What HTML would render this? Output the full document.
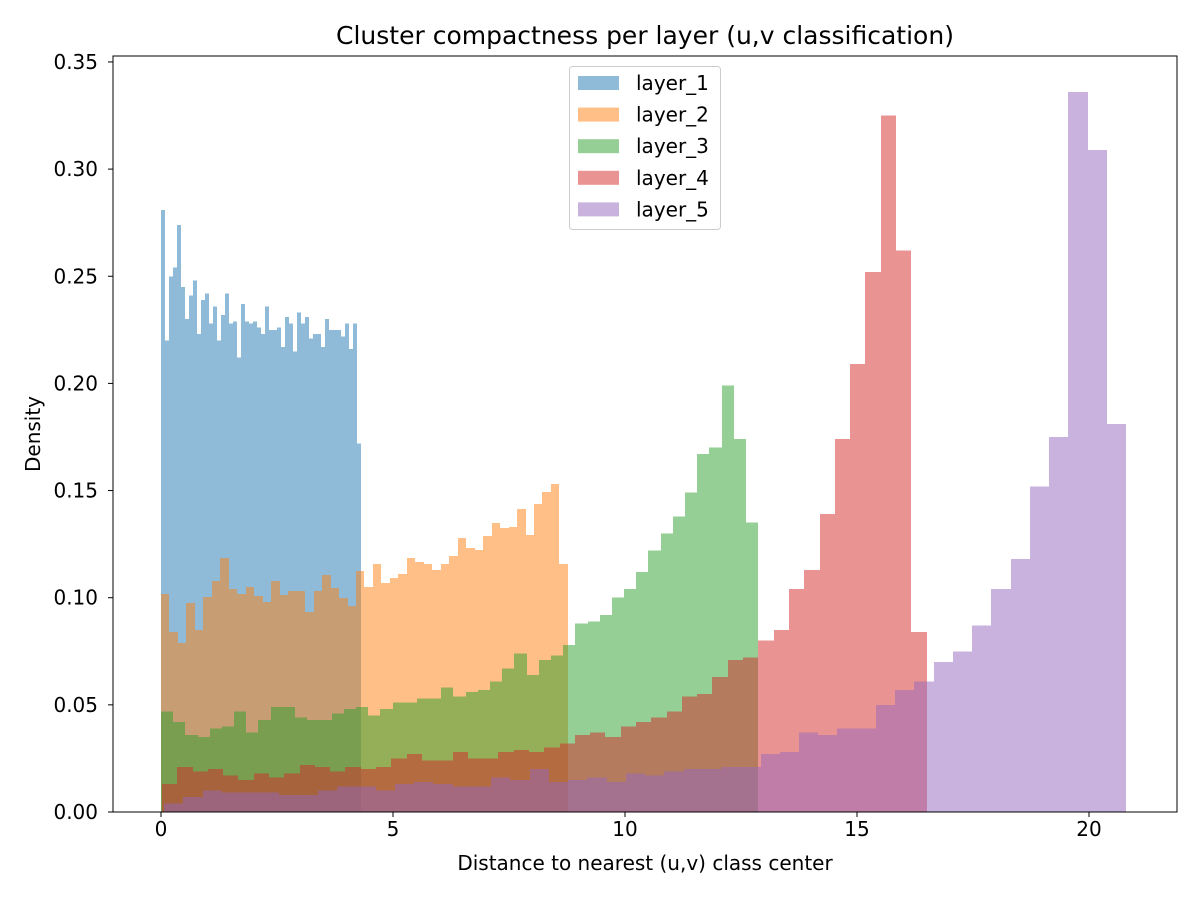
<!DOCTYPE html>
<html><head><meta charset="utf-8"><style>
html,body{margin:0;padding:0;background:#fff}
svg{display:block;font-family:"DejaVu Sans","Liberation Sans",sans-serif}
</style></head><body>
<svg id="chart" width="1200" height="900" viewBox="0 0 1200 900" xmlns="http://www.w3.org/2000/svg">
<rect x="0" y="0" width="1200" height="900" fill="#fff"/>
<g id="bars"></g>
<rect x="113" y="56" width="1064" height="756" fill="none" stroke="#000" stroke-width="1"/>
<g id="axes"></g>
<text x="645" y="44" text-anchor="middle" font-size="25">Cluster compactness per layer (u,v classification)</text>
<text x="645" y="870" text-anchor="middle" font-size="20">Distance to nearest (u,v) class center</text>
<text x="0" y="0" transform="translate(40,434) rotate(-90)" text-anchor="middle" font-size="20">Density</text>
<g id="legend"></g>
</svg>
<script>
const layerNames = ["layer_1","layer_2","layer_3","layer_4","layer_5"];
const layerColors = ["#1f77b4","#ff7f0e","#2ca02c","#d62728","#9467bd"];
const layerRanges = [[0,4.31],[0,8.77],[0,12.87],[0.02,16.5],[0.065,20.8]];
const layer1 = [.281,.220,.250,.254,.274,.245,.230,.241,.248,.223,.239,.242,.228,.236,.220,.232,.242,.228,.229,.212,.237,.229,.228,.229,.226,.223,.236,.225,.225,.226,.217,.231,.228,.215,.233,.228,.231,.221,.223,.223,.217,.230,.225,.225,.225,.222,.228,.216,.228,.172];
const layer2 = [.1017,.0840,.0789,.0975,.0849,.1003,.1078,.1185,.1041,.1017,.1050,.1008,.0980,.1078,.1013,.1031,.1031,.0933,.1031,.1106,.1045,.0999,.0961,.1125,.1050,.1157,.1069,.1092,.1111,.1185,.1167,.1157,.1129,.1157,.1195,.1279,.1232,.1223,.1288,.1349,.1325,.1330,.1414,.1293,.1437,.1493,.1531,.1157];
const layer3 = [.047,.042,.036,.035,.039,.040,.047,.037,.043,.049,.049,.044,.043,.043,.046,.048,.049,.045,.048,.051,.051,.053,.053,.058,.054,.056,.057,.061,.067,.074,.064,.071,.073,.078,.088,.089,.092,.100,.104,.112,.122,.130,.138,.149,.167,.170,.199,.174,.135];
const layer4 = [.013,.021,.019,.020,.017,.015,.018,.016,.018,.022,.021,.019,.021,.020,.021,.025,.027,.024,.024,.028,.025,.025,.028,.029,.028,.030,.032,.036,.037,.035,.040,.042,.044,.047,.054,.055,.063,.071,.072,.080,.085,.104,.113,.139,.174,.209,.252,.325,.262,.084];
const layer5 = [.004,.007,.010,.009,.009,.009,.008,.008,.010,.012,.012,.010,.013,.014,.013,.012,.012,.016,.015,.020,.014,.015,.016,.014,.018,.017,.019,.020,.020,.021,.021,.027,.028,.037,.036,.039,.039,.050,.057,.061,.070,.075,.087,.104,.118,.152,.175,.336,.309,.181];
const xTicks = [0,5,10,15,20];
const xTickLabels = ["0","5","10","15","20"];
const yTicks = [0,0.05,0.10,0.15,0.20,0.25,0.30,0.35];
const yTickLabels = ["0.00","0.05","0.10","0.15","0.20","0.25","0.30","0.35"];

const NS="http://www.w3.org/2000/svg";
const X0=161, XS=46.4, Y0=812, YS=2143;
function xs(v){return X0+v*XS;}
function ys(v){return Y0-v*YS;}
function mk(tag,attrs){const e=document.createElementNS(NS,tag);for(const k in attrs)e.setAttribute(k,attrs[k]);return e;}

const layers=[layer1,layer2,layer3,layer4,layer5];
const barsG=document.getElementById('bars');
layers.forEach((vals,li)=>{
  const g=mk('g',{fill:layerColors[li],'fill-opacity':0.5,'shape-rendering':'crispEdges'});
  
  
  const [a,b]=layerRanges[li];
  const w=(b-a)/vals.length;
  vals.forEach((v,i)=>{
    const x1=xs(a+i*w), x2=xs(a+(i+1)*w);
    const r=mk('rect',{x:Math.round(x1),y:ys(v),width:Math.round(x2)-Math.round(x1),height:Y0-ys(v)});
    
    
    g.appendChild(r);
  });
  barsG.appendChild(g);
});

const ax=document.getElementById('axes');
xTicks.forEach((t,i)=>{
  const x=xs(t);
  const l=mk('line',{x1:x,x2:x,y1:812,y2:817,stroke:'#000'});
  
  
  ax.appendChild(l);
  const tx=mk('text',{x:x,y:836,'text-anchor':'middle','font-size':20});
  tx.textContent=xTickLabels[i];
  
  
  ax.appendChild(tx);
});
yTicks.forEach((t,i)=>{
  const y=ys(t);
  const l=mk('line',{x1:108,x2:113,y1:y,y2:y,stroke:'#000'});
  
  
  ax.appendChild(l);
  const tx=mk('text',{x:98,y:y+7,'text-anchor':'end','font-size':20});
  tx.textContent=yTickLabels[i];
  
  
  ax.appendChild(tx);
});

const lg=document.getElementById('legend');
const box=mk('rect',{x:569.5,y:66.5,width:151,height:163,rx:3,fill:'#fff','fill-opacity':0.8,stroke:'#ccc'});


lg.appendChild(box);
layerNames.forEach((n,i)=>{
  const cy=83+i*31.6;
  const p=mk('rect',{x:578,y:cy-7,width:41,height:14,fill:layerColors[i],'fill-opacity':0.5});
  
  
  lg.appendChild(p);
  const t=mk('text',{x:636,y:cy+7,'font-size':20});
  t.textContent=n;
  
  
  lg.appendChild(t);
});
</script>
</body></html>
